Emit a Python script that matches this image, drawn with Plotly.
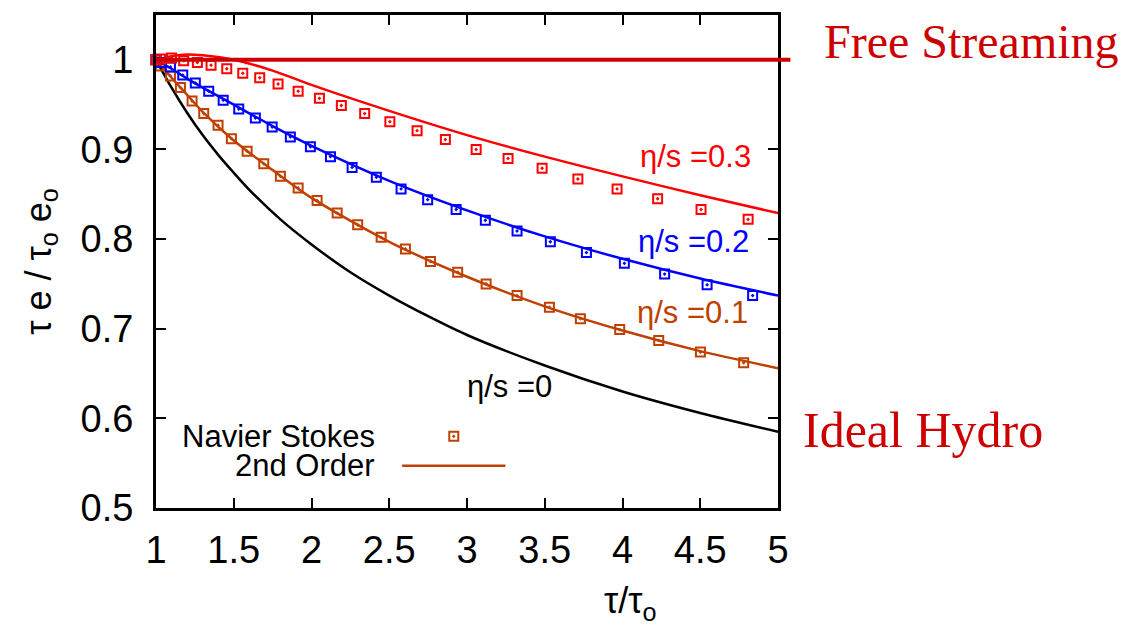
import plotly.graph_objects as go

# ---------------- data ----------------
tau_ideal = [1.0, 1.1, 1.2, 1.3, 1.4, 1.5, 1.6, 1.8, 2.0, 2.25, 2.5, 2.75, 3.0, 3.5, 4.0, 4.5, 5.0]
e_ideal = [1.0, 0.969, 0.941, 0.916, 0.894, 0.874, 0.855, 0.822, 0.794, 0.763, 0.737, 0.714, 0.693, 0.659, 0.630, 0.606, 0.585]

tau_line = [1.0, 1.1, 1.2, 1.3, 1.5, 1.75, 2.0, 2.5, 3.0, 3.5, 4.0, 4.5, 5.0]
e_2nd_03 = [1.0, 1.004, 1.006, 1.005, 1.000, 0.988, 0.972, 0.943, 0.916, 0.892, 0.870, 0.849, 0.829]
e_2nd_02 = [1.0, 0.990, 0.979, 0.969, 0.950, 0.926, 0.904, 0.865, 0.832, 0.803, 0.778, 0.756, 0.737]
e_2nd_01 = [1.0, 0.980, 0.961, 0.942, 0.910, 0.877, 0.846, 0.797, 0.758, 0.725, 0.698, 0.675, 0.656]

tau_ns_03 = [1.0, 1.03, 1.10, 1.178, 1.266, 1.354, 1.455, 1.558, 1.667, 1.785, 1.914, 2.051, 2.192,
             2.342, 2.504, 2.679, 2.861, 3.059, 3.264, 3.483, 3.713, 3.965, 4.226, 4.505, 4.808]
e_ns_03 = [1.0, 1.001, 1.002, 0.999, 0.997, 0.994, 0.990, 0.985, 0.980, 0.973, 0.965, 0.957, 0.949,
           0.940, 0.931, 0.921, 0.911, 0.900, 0.890, 0.879, 0.867, 0.856, 0.845, 0.833, 0.822]

tau_ns_02 = [1.0, 1.03, 1.093, 1.172, 1.253, 1.339, 1.432, 1.532, 1.639, 1.747, 1.864, 1.993, 2.122, 2.261,
             2.417, 2.576, 2.747, 2.930, 3.118, 3.322, 3.536, 3.768, 4.012, 4.271, 4.544, 4.837]
e_ns_02 = [1.0, 0.997, 0.992, 0.983, 0.974, 0.965, 0.955, 0.945, 0.935, 0.925, 0.914, 0.903, 0.892, 0.880,
           0.869, 0.856, 0.844, 0.833, 0.821, 0.809, 0.797, 0.785, 0.773, 0.761, 0.749, 0.737]

tau_ns_01 = [1.0, 1.027, 1.093, 1.157, 1.232, 1.307, 1.399, 1.485, 1.586, 1.693, 1.800, 1.914, 2.036, 2.165,
             2.297, 2.448, 2.604, 2.765, 2.940, 3.123, 3.322, 3.530, 3.729, 3.982, 4.233, 4.501, 4.779]
e_ns_01 = [1.0, 0.993, 0.982, 0.969, 0.954, 0.940, 0.927, 0.912, 0.898, 0.884, 0.870, 0.857, 0.843, 0.829,
           0.816, 0.802, 0.789, 0.775, 0.763, 0.750, 0.737, 0.724, 0.711, 0.699, 0.687, 0.674, 0.662]

free_streaming_level = 1.0

x_ticks = [1, 1.5, 2, 2.5, 3, 3.5, 4, 4.5, 5]
x_tick_labels = ["1", "1.5", "2", "2.5", "3", "3.5", "4", "4.5", "5"]
y_ticks = [0.5, 0.6, 0.7, 0.8, 0.9, 1.0]
y_tick_labels = ["0.5", "0.6", "0.7", "0.8", "0.9", "1"]

curve_labels = ["η/s =0.3", "η/s =0.2", "η/s =0.1", "η/s =0"]
legend_labels = ["Navier Stokes", "2nd Order"]

# ---------------- styles ----------------
RED = "#ff0000"
BLUE = "#0000ff"
BROWN = "#c04000"
BLACK = "#000000"
DARKRED = "#cc0000"
SANS = "Liberation Sans, Arial, sans-serif"
SERIF = "Liberation Serif, Times New Roman, serif"

fig = go.Figure()


def add_line(x, y, color, width=2.5):
    fig.add_trace(go.Scatter(x=x, y=y, mode="lines",
                             line=dict(color=color, width=width, shape="spline", smoothing=0.8),
                             showlegend=False, hoverinfo="skip"))


def add_markers(x, y, color):
    fig.add_trace(go.Scatter(x=x, y=y, mode="markers",
                             marker=dict(symbol="square-open-dot", size=9, color=color,
                                         line=dict(color=color, width=2)),
                             showlegend=False, hoverinfo="skip", cliponaxis=False))


add_line(tau_ideal, e_ideal, BLACK)
add_line(tau_line, e_2nd_01, BROWN)
add_line(tau_line, e_2nd_02, BLUE)
add_line(tau_line, e_2nd_03, RED)
add_markers(tau_ns_01, e_ns_01, BROWN)
add_markers(tau_ns_02, e_ns_02, BLUE)
add_markers(tau_ns_03, e_ns_03, RED)

# free-streaming line (extends slightly past the right border)
fig.add_shape(type="line", xref="paper", yref="y", x0=0, x1=1.02,
              y0=free_streaming_level, y1=free_streaming_level,
              line=dict(color=DARKRED, width=4), layer="above")

# legend (manual: text right-aligned, sample to its right)
legend_text_x = 2.42
legend_sample_x = [2.583, 3.247]
legend_y = [0.580, 0.547]
for txt, ly in zip(legend_labels, legend_y):
    fig.add_annotation(x=legend_text_x, y=ly, text=txt, showarrow=False, xanchor="right",
                       yanchor="middle", font=dict(family=SANS, size=31, color=BLACK))
add_markers([sum(legend_sample_x) / 2], [legend_y[0]], BROWN)
fig.add_trace(go.Scatter(x=legend_sample_x, y=[legend_y[1], legend_y[1]], mode="lines",
                         line=dict(color=BROWN, width=2.5), showlegend=False, hoverinfo="skip"))

# curve labels
label_pos = [(4.47, 0.892, RED), (4.457, 0.797, BLUE), (4.45, 0.718, BROWN), (3.276, 0.636, BLACK)]
for txt, (lx, ly, c) in zip(curve_labels, label_pos):
    fig.add_annotation(x=lx, y=ly, text=txt, showarrow=False, xanchor="center", yanchor="middle",
                       font=dict(family=SANS, size=31, color=c))

# side labels
fig.add_annotation(xref="paper", x=1.070, y=1.02, text="Free Streaming", showarrow=False,
                   xanchor="left", yanchor="middle", font=dict(family=SERIF, size=48, color=DARKRED))
fig.add_annotation(xref="paper", x=1.037, y=0.587, text="Ideal Hydro", showarrow=False,
                   xanchor="left", yanchor="middle", font=dict(family=SERIF, size=50, color=DARKRED))

# axis titles
fig.add_annotation(xref="paper", yref="paper", x=0.762, y=0, yshift=-95, text="τ/τ<sub>o</sub>",
                   showarrow=False, xanchor="center", yanchor="middle",
                   font=dict(family=SANS, size=36, color=BLACK))
fig.add_annotation(xref="paper", yref="paper", x=-0.186, y=0.5, text="τ e / τ<sub>o</sub> e<sub>o</sub>",
                   textangle=-90, showarrow=False, xanchor="center", yanchor="middle",
                   font=dict(family=SANS, size=36, color=BLACK))

axis_common = dict(showline=True, linewidth=3, linecolor=BLACK, mirror="ticks", ticks="inside",
                   ticklen=10, tickwidth=2, tickcolor=BLACK, showgrid=False, zeroline=False,
                   tickfont=dict(family=SANS, size=38, color=BLACK))

# the page body adds an 8px offset, compensate in the margins
fig.update_layout(
    width=1136, height=627,
    margin=dict(l=148, r=366, t=4, b=127),
    paper_bgcolor="white", plot_bgcolor="white",
    xaxis=dict(range=[1, 5], tickvals=x_ticks, ticktext=x_tick_labels, ticklabelstandoff=6, **axis_common),
    yaxis=dict(range=[0.5, 1.05], tickvals=y_ticks, ticktext=y_tick_labels, ticklabelstandoff=12, **axis_common),
)

fig.write_html("out.html")
